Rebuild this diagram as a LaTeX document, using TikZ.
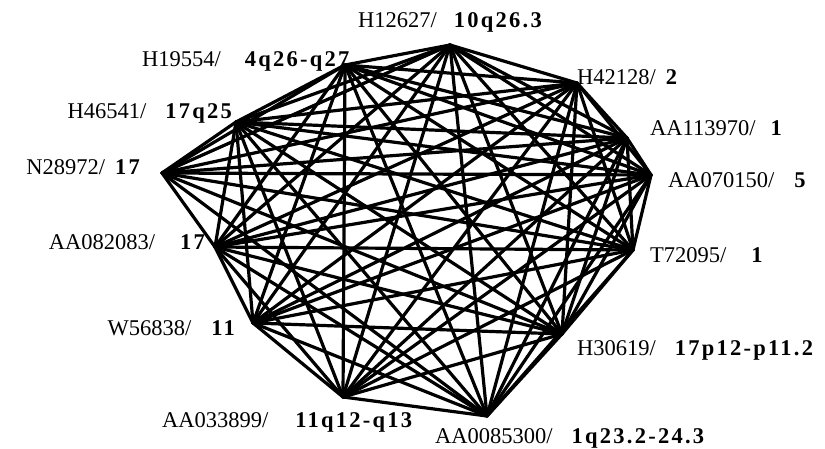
\documentclass[tikz,border=0pt]{standalone}
\usepackage{fontspec}
\setmainfont{Liberation Serif}
\newfontfamily\locfont{Liberation Serif}[LetterSpace=10]
\usepackage{tikz}

\newcommand{\loc}[1]{{\locfont\bfseries #1}}

\begin{document}
\begin{tikzpicture}[
    x=1pt, y=-1pt,
    edge/.style={line width=3.2pt, line cap=round, line join=round},
    lab/.style={inner sep=0pt, font=\fontsize{22.5}{26}\selectfont}
]
\useasboundingbox (0,0) rectangle (825,449);

% Vertices
\coordinate (h12627) at (450,45);
\coordinate (h19554) at (345,65);
\coordinate (h42128) at (577,83);
\coordinate (h46541) at (236,122);
\coordinate (aa113970) at (627,138);
\coordinate (n28972) at (162,173);
\coordinate (aa070150) at (651,175);
\coordinate (aa082083) at (215,247);
\coordinate (t72095) at (633,250);
\coordinate (w56838) at (253,323);
\coordinate (h30619) at (562,334);
\coordinate (aa033899) at (343,397);
\coordinate (aa0085300) at (487,416);

% Edges
\foreach \u [count=\i] in {h12627,h19554,h42128,h46541,aa113970,aa070150,aa082083,t72095,w56838,h30619,aa033899,aa0085300} {
  \foreach \v [count=\j] in {h12627,h19554,h42128,h46541,aa113970,aa070150,aa082083,t72095,w56838,h30619,aa033899,aa0085300} {
    \ifnum\j>\i \draw[edge] (\u) -- (\v); \fi
  }
}
\foreach \v in {h46541,h19554,h12627,h42128,aa113970,aa070150,t72095,h30619,aa0085300,aa082083}
  \draw[edge] (n28972) -- (\v);

% Labels
\node[lab, anchor=base west] (l-h12627) at (358,28) {H12627/\hspace{17pt}\loc{10q26.3}};
\node[lab, anchor=base west] (l-h19554) at (142,67) {H19554/\hspace{24pt}\loc{4q26-q27}};
\node[lab, anchor=base west] (l-h42128) at (577,85) {H42128/\hspace{10pt}\loc{2}};
\node[lab, anchor=base east] (l-h46541) at (232,119) {H46541/\hspace{19pt}\loc{17q25}};
\node[lab, anchor=base west] (l-aa113970) at (650,136) {AA113970/\hspace{15pt}\loc{1}};
\node[lab, anchor=base east] (l-n28972) at (140,175) {N28972/\hspace{10pt}\loc{17}};
\node[lab, anchor=base west] (l-aa070150) at (668,188) {AA070150/\hspace{20pt}\loc{5}};
\node[lab, anchor=base east] (l-aa082083) at (205,250) {AA082083/\hspace{25pt}\loc{17}};
\node[lab, anchor=base west] (l-t72095) at (650,262) {T72095/\hspace{25pt}\loc{1}};
\node[lab, anchor=base east] (l-w56838) at (235,335) {W56838/\hspace{20pt}\loc{11}};
\node[lab, anchor=base west] (l-h30619) at (577,355) {H30619/\hspace{19pt}\loc{17p12-p11.2}};
\node[lab, anchor=base west] (l-aa033899) at (162,427) {AA033899/\hspace{27pt}\loc{11q12-q13}};
\node[lab, anchor=base west] (l-aa0085300) at (435,443) {AA0085300/\hspace{19pt}\loc{1q23.2-24.3}};

\end{tikzpicture}
\end{document}
